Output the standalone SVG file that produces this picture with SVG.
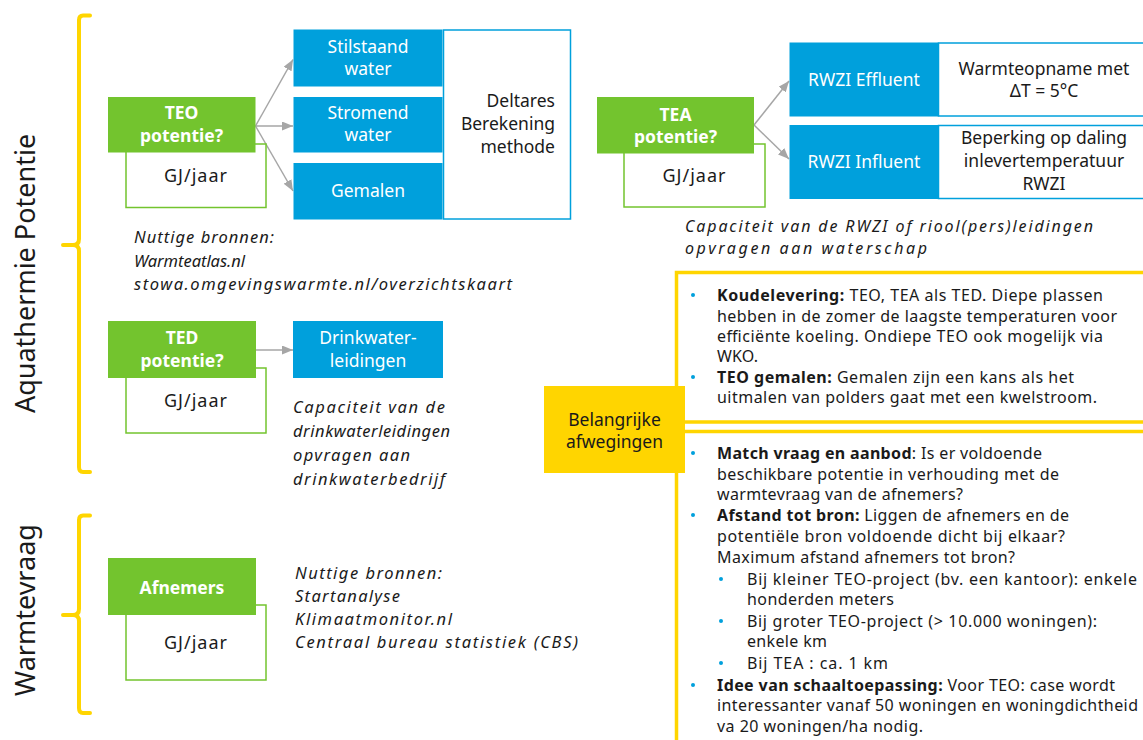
<svg xmlns="http://www.w3.org/2000/svg" width="1143" height="740" viewBox="0 0 1143 740">
  <style>
    .green { fill: #73C42E; }
    .blue { fill: #00A0DC; }
    .unit { fill: #ffffff; stroke: #73C42E; stroke-width: 1.5; }
    .info { fill: #ffffff; stroke: #00A0DC; stroke-width: 1.5; }
    .title { font-family: "Noto Sans", "Liberation Sans", sans-serif; font-size: 17.5px; font-weight: bold; fill: #ffffff; text-anchor: middle; }
    .wlabel { font-family: "Noto Sans", "Liberation Sans", sans-serif; font-size: 17.5px; fill: #ffffff; text-anchor: middle; }
    .dlabel { font-family: "Noto Sans", "Liberation Sans", sans-serif; font-size: 17.5px; fill: #1a1a1a; text-anchor: middle; }
    .gj { font-family: "Noto Sans", "Liberation Sans", sans-serif; font-size: 18px; fill: #1a1a1a; text-anchor: middle; letter-spacing: 1px; }
    .note { font-family: "Noto Sans", "Liberation Sans", sans-serif; font-size: 16.5px; font-style: italic; fill: #1a1a1a; }
    .note.sm { font-size: 16px; }
    .body { font-family: "Noto Sans", "Liberation Sans", sans-serif; font-size: 16px; fill: #1a1a1a; }
    .body tspan.b { font-weight: bold; }
    .side { font-family: "Noto Sans", "Liberation Sans", sans-serif; font-size: 27px; fill: #1a1a1a; text-anchor: middle; }
    .brace { fill: none; stroke: #FFD500; stroke-width: 4; stroke-linecap: round; stroke-linejoin: round; }
    .panel { fill: #ffffff; stroke: #FFD500; stroke-width: 3.5; }
    .conn { stroke: #A6A6A6; stroke-width: 1.5; fill: none; marker-end: url(#ah); }
    .dot { fill: #00A0DC; }
  </style>
  <defs>
    <marker id="ah" viewBox="0 0 10 10" refX="10" refY="5" markerWidth="11" markerHeight="9" markerUnits="userSpaceOnUse" orient="auto" preserveAspectRatio="none">
      <path d="M0,0 L10,5 L0,10 z" fill="#A6A6A6"/>
    </marker>
  </defs>

  <rect width="1143" height="740" fill="#ffffff"/>

  <!-- section braces and side labels -->
  <g id="section-aquathermie">
    <path class="brace" d="M90,15.5 L83,15.5 Q79,15.5 79,20 L79,239 Q79,245 73,245 L63,245 M73,245 Q79,245 79,251 L79,467 Q79,472 83,472 L90,472"/>
    <text class="side" transform="translate(35,273.5) rotate(-90)">Aquathermie Potentie</text>
  </g>
  <g id="section-warmtevraag">
    <path class="brace" d="M90,515.5 L83,515.5 Q79,515.5 79,520 L79,609 Q79,615 73,615 L63,615 M73,615 Q79,615 79,621 L79,708 Q79,713 83,713 L90,713"/>
    <text class="side" transform="translate(35,610) rotate(-90)">Warmtevraag</text>
  </g>

  <!-- connectors -->
  <g id="connectors">
    <line class="conn" x1="255.5" y1="126" x2="293" y2="59.5"/>
    <line class="conn" x1="255.5" y1="126" x2="293" y2="126"/>
    <line class="conn" x1="255.5" y1="126" x2="293" y2="191"/>
    <line class="conn" x1="256" y1="350" x2="293" y2="350"/>
    <line class="conn" x1="754" y1="125" x2="789" y2="81"/>
    <line class="conn" x1="754" y1="125" x2="789" y2="159"/>
  </g>

  <!-- TEO -->
  <g id="node-teo">
    <rect class="unit" x="126" y="144" width="140" height="63.5"/>
    <rect class="green" x="108" y="97" width="147.5" height="55.5"/>
    <text class="title" x="181.5" y="119">TEO</text>
    <text class="title" x="181.5" y="141.5">potentie?</text>
    <text class="gj" x="196" y="181.5">GJ/jaar</text>
  </g>
  <g id="node-stilstaand">
    <rect class="blue" x="293.5" y="29.5" width="149" height="57"/>
    <text class="wlabel" x="368" y="52.5">Stilstaand</text>
    <text class="wlabel" x="368" y="74.5">water</text>
  </g>
  <g id="node-stromend">
    <rect class="blue" x="293.5" y="97" width="149" height="55.5"/>
    <text class="wlabel" x="368" y="119">Stromend</text>
    <text class="wlabel" x="368" y="141">water</text>
  </g>
  <g id="node-gemalen">
    <rect class="blue" x="293.5" y="163" width="149" height="56.5"/>
    <text class="wlabel" x="368" y="197">Gemalen</text>
  </g>
  <g id="node-deltares">
    <rect class="info" x="443.5" y="30" width="127" height="189"/>
    <text class="dlabel" x="555" y="107" style="text-anchor:end">Deltares</text>
    <text class="dlabel" x="555" y="129.5" style="text-anchor:end">Berekening</text>
    <text class="dlabel" x="555" y="152.5" style="text-anchor:end">methode</text>
  </g>
  <g id="note-teo">
    <text class="note" x="134" y="243" textLength="140" lengthAdjust="spacing">Nuttige bronnen:</text>
    <text class="note" x="134" y="266.5" textLength="111" lengthAdjust="spacing">Warmteatlas.nl</text>
    <text class="note" x="134" y="290" textLength="378" lengthAdjust="spacing">stowa.omgevingswarmte.nl/overzichtskaart</text>
  </g>

  <!-- TED -->
  <g id="node-ted">
    <rect class="unit" x="126" y="368" width="140" height="65"/>
    <rect class="green" x="108" y="321" width="148" height="57"/>
    <text class="title" x="182" y="344">TED</text>
    <text class="title" x="182" y="367">potentie?</text>
    <text class="gj" x="196" y="407">GJ/jaar</text>
  </g>
  <g id="node-drinkwater">
    <rect class="blue" x="293" y="321" width="150" height="57"/>
    <text class="wlabel" x="368" y="344">Drinkwater-</text>
    <text class="wlabel" x="368" y="367">leidingen</text>
  </g>
  <g id="note-ted">
    <text class="note" x="293" y="413" textLength="152" lengthAdjust="spacing">Capaciteit van de</text>
    <text class="note" x="293" y="437" textLength="157" lengthAdjust="spacing">drinkwaterleidingen</text>
    <text class="note" x="293" y="461" textLength="117" lengthAdjust="spacing">opvragen aan</text>
    <text class="note" x="293" y="485" textLength="152" lengthAdjust="spacing">drinkwaterbedrijf</text>
  </g>

  <!-- Afnemers -->
  <g id="node-afnemers">
    <rect class="unit" x="126" y="605" width="140" height="75"/>
    <rect class="green" x="108" y="558" width="148" height="57"/>
    <text class="title" x="182" y="594">Afnemers</text>
    <text class="gj" x="196" y="649">GJ/jaar</text>
  </g>
  <g id="note-afnemers">
    <text class="note" x="295" y="579" textLength="147" lengthAdjust="spacing">Nuttige bronnen:</text>
    <text class="note" x="295" y="602" textLength="105" lengthAdjust="spacing">Startanalyse</text>
    <text class="note" x="295" y="625" textLength="157" lengthAdjust="spacing">Klimaatmonitor.nl</text>
    <text class="note" x="295" y="648" textLength="283" lengthAdjust="spacing">Centraal bureau statistiek (CBS)</text>
  </g>

  <!-- TEA -->
  <g id="node-tea">
    <rect class="unit" x="624" y="144" width="141" height="63"/>
    <rect class="green" x="597" y="97" width="157" height="56.5"/>
    <text class="title" x="675.5" y="120.5">TEA</text>
    <text class="title" x="675.5" y="143">potentie?</text>
    <text class="gj" x="694.5" y="181.5">GJ/jaar</text>
  </g>
  <g id="node-effluent">
    <rect class="blue" x="789.5" y="42.5" width="149" height="74"/>
    <rect class="info" x="938.5" y="43" width="212" height="73"/>
    <text class="wlabel" x="864" y="86">RWZI Effluent</text>
    <text class="dlabel" x="1044" y="75">Warmteopname met</text>
    <text class="dlabel" x="1044" y="97">ΔT = 5°C</text>
  </g>
  <g id="node-influent">
    <rect class="blue" x="789.5" y="125" width="149" height="74"/>
    <rect class="info" x="938.5" y="125.5" width="212" height="73"/>
    <text class="wlabel" x="864" y="167.5">RWZI Influent</text>
    <text class="dlabel" x="1044" y="143.5">Beperking op daling</text>
    <text class="dlabel" x="1044" y="166.5">inlevertemperatuur</text>
    <text class="dlabel" x="1044" y="189.5">RWZI</text>
  </g>
  <g id="note-tea">
    <text class="note sm" x="685" y="232" textLength="408" lengthAdjust="spacing">Capaciteit van de RWZI of riool(pers)leidingen</text>
    <text class="note sm" x="685" y="253.5" textLength="242" lengthAdjust="spacing">opvragen aan waterschap</text>
  </g>

  <!-- considerations panels -->
  <g id="panel-top">
    <rect class="panel" x="676.5" y="272.5" width="500" height="149.5"/>
    <circle class="dot" cx="693" cy="295" r="2"/>
    <text class="body" x="717" y="301" textLength="386" lengthAdjust="spacing"><tspan class="b">Koudelevering:</tspan> TEO, TEA als TED. Diepe plassen</text>
    <text class="body" x="717" y="322" textLength="400" lengthAdjust="spacing">hebben in de zomer de laagste temperaturen voor</text>
    <text class="body" x="717" y="342" textLength="386" lengthAdjust="spacing">efficiënte koeling. Ondiepe TEO ook mogelijk via</text>
    <text class="body" x="717" y="362" textLength="41" lengthAdjust="spacing">WKO.</text>
    <circle class="dot" cx="693" cy="377" r="2"/>
    <text class="body" x="717" y="383" textLength="357" lengthAdjust="spacing"><tspan class="b">TEO gemalen:</tspan> Gemalen zijn een kans als het</text>
    <text class="body" x="717" y="403" textLength="380" lengthAdjust="spacing">uitmalen van polders gaat met een kwelstroom.</text>
  </g>
  <g id="panel-bottom">
    <rect class="panel" x="676.5" y="431.5" width="500" height="400"/>
    <circle class="dot" cx="693" cy="453" r="2"/>
    <text class="body" x="717" y="459" textLength="325" lengthAdjust="spacing"><tspan class="b">Match vraag en aanbod</tspan>: Is er voldoende</text>
    <text class="body" x="717" y="480" textLength="342" lengthAdjust="spacing">beschikbare potentie in verhouding met de</text>
    <text class="body" x="717" y="500" textLength="246" lengthAdjust="spacing">warmtevraag van de afnemers?</text>
    <circle class="dot" cx="693" cy="515" r="2"/>
    <text class="body" x="717" y="521" textLength="352" lengthAdjust="spacing"><tspan class="b">Afstand tot bron:</tspan> Liggen de afnemers en de</text>
    <text class="body" x="717" y="541.5" textLength="348" lengthAdjust="spacing">potentiële bron voldoende dicht bij elkaar?</text>
    <text class="body" x="717" y="563" textLength="298" lengthAdjust="spacing">Maximum afstand afnemers tot bron?</text>
    <circle class="dot" cx="721" cy="579" r="2"/>
    <text class="body" x="747" y="585" textLength="390" lengthAdjust="spacing">Bij kleiner TEO-project (bv. een kantoor): enkele</text>
    <text class="body" x="747" y="605" textLength="147" lengthAdjust="spacing">honderden meters</text>
    <circle class="dot" cx="721" cy="621" r="2"/>
    <text class="body" x="747" y="627" textLength="350" lengthAdjust="spacing">Bij groter TEO-project (&gt; 10.000 woningen):</text>
    <text class="body" x="747" y="647" textLength="80" lengthAdjust="spacing">enkele km</text>
    <circle class="dot" cx="721" cy="663" r="2"/>
    <text class="body" x="747" y="669" textLength="141" lengthAdjust="spacing">Bij TEA : ca. 1 km</text>
    <circle class="dot" cx="693" cy="685" r="2"/>
    <text class="body" x="717" y="691" textLength="398" lengthAdjust="spacing"><tspan class="b">Idee van schaaltoepassing:</tspan> Voor TEO: case wordt</text>
    <text class="body" x="717" y="711" textLength="421" lengthAdjust="spacing">interessanter vanaf 50 woningen en woningdichtheid</text>
    <text class="body" x="717" y="732" textLength="206" lengthAdjust="spacing">va 20 woningen/ha nodig.</text>
  </g>
  <g id="node-afwegingen">
    <rect x="544" y="386" width="141" height="87" fill="#FFD500"/>
    <text class="dlabel" x="614.5" y="426">Belangrijke</text>
    <text class="dlabel" x="614.5" y="448">afwegingen</text>
  </g>
</svg>
